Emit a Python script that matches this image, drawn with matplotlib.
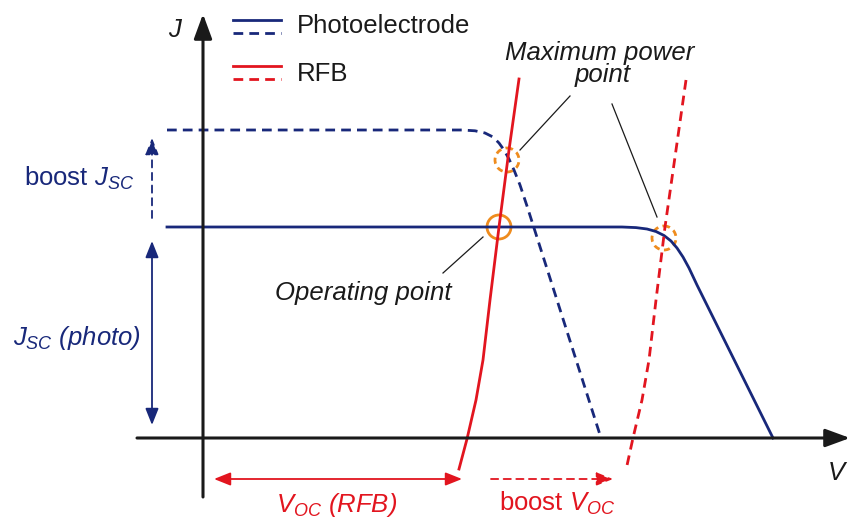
import matplotlib
matplotlib.use("Agg")
import matplotlib.pyplot as plt
from matplotlib.patches import Circle, FancyArrowPatch

plt.rcParams["font.family"] = ["Liberation Sans", "DejaVu Sans"]
plt.rcParams["mathtext.fontset"] = "custom"
plt.rcParams["mathtext.rm"] = "Liberation Sans"
plt.rcParams["mathtext.it"] = "Liberation Sans:italic"

# Curve data (pixel units, y pointing down)
photo_x = [167, 622, 636, 647, 656, 664, 671, 677, 683, 689, 697, 773]
photo_y = [227, 227, 227.6, 229, 231.5, 235.5, 241, 248, 257, 268, 285, 438]

photo_boost_x = [167, 462, 475, 485, 493, 499, 504, 509, 514, 520, 527, 601]
photo_boost_y = [130, 130, 130.8, 133, 137, 143, 150, 159, 170, 185, 206, 438]

rfb_x = [519, 509, 499, 490, 483, 476, 467, 459]
rfb_y = [79, 150, 227, 300, 360, 400, 439, 469]

rfb_boost_x = [686, 676, 665, 656, 649, 642, 633, 626]
rfb_boost_y = [80, 150, 227, 300, 360, 400, 438, 470]

# points marked with circles: operating point, two maximum power points
op_point = (499, 227)
mpp_points = [(507, 160), (664, 238)]

navy = "#18287a"
red = "#e2151f"
orange = "#ef8c1e"
ink = "#1a1a1a"
fs = 18.5

fig = plt.figure(figsize=(8.5, 5.19), dpi=100)
ax = fig.add_axes([0, 0, 1, 1])
ax.set_xlim(0, 850)
ax.set_ylim(519, 0)
ax.axis("off")

# axes with arrows
ax.annotate("", xy=(850, 438), xytext=(137, 438),
            arrowprops=dict(arrowstyle="-|>,head_length=1.5,head_width=0.55",
                            color=ink, lw=2.2, mutation_scale=10, shrinkA=0, shrinkB=0))
ax.annotate("", xy=(203, 14), xytext=(203, 497),
            arrowprops=dict(arrowstyle="-|>,head_length=1.5,head_width=0.55",
                            color=ink, lw=2.2, mutation_scale=10, shrinkA=0, shrinkB=0))
ax.text(175, 37, "J", fontsize=fs, style="italic", color=ink, ha="center", va="baseline")
ax.text(836, 480, "V", fontsize=fs, style="italic", color=ink, ha="center", va="baseline")

# curves
ax.plot(photo_x, photo_y, color=navy, lw=2, solid_joinstyle="round")
ax.plot(photo_boost_x, photo_boost_y, color=navy, lw=2, ls=(0, (3.5, 2.2)))
ax.plot(rfb_x, rfb_y, color=red, lw=2, solid_joinstyle="round")
ax.plot(rfb_boost_x, rfb_boost_y, color=red, lw=2, ls=(0, (3.5, 2.2)))

# circles
ax.add_patch(Circle(op_point, 12, fill=False, ec=orange, lw=2))
for p in mpp_points:
    ax.add_patch(Circle(p, 12, fill=False, ec=orange, lw=2, ls=(0, (2.2, 1.6))))

# legend
ax.plot([233, 281], [20, 20], color=navy, lw=2)
ax.plot([233, 281], [33, 33], color=navy, lw=2, ls=(0, (3.5, 2.2)))
ax.plot([233, 281], [66, 66], color=red, lw=2)
ax.plot([233, 281], [79, 79], color=red, lw=2, ls=(0, (3.5, 2.2)))
ax.text(297, 33, "Photoelectrode", fontsize=fs, color=ink, va="baseline")
ax.text(297, 81, "RFB", fontsize=fs, color=ink, va="baseline")

# annotations
ax.text(600, 60, "Maximum power", fontsize=fs, style="italic", color=ink, ha="center", va="baseline")
ax.text(603, 82, "point", fontsize=fs, style="italic", color=ink, ha="center", va="baseline")
ax.plot([570, 520], [96, 150], color=ink, lw=0.9)
ax.plot([612, 657], [104, 217], color=ink, lw=0.9)
ax.text(363, 300, "Operating point", fontsize=fs, style="italic", color=ink, ha="center", va="baseline")
ax.plot([443, 483], [273, 237], color=ink, lw=0.9)

# current arrows (left)
arrow_small = "-|>,head_length=1.0,head_width=0.4"
ax.annotate("", xy=(152, 138), xytext=(152, 218),
            arrowprops=dict(arrowstyle=arrow_small, color=navy, lw=1.3, ls=(0, (4, 3)),
                            mutation_scale=10, shrinkA=0, shrinkB=0))
ax.add_patch(FancyArrowPatch((152, 241), (152, 425), arrowstyle="<|-|>,head_length=1.0,head_width=0.4",
                             color=navy, lw=1.3, mutation_scale=10, shrinkA=0, shrinkB=0))
ax.text(24, 186, r"boost $J_{SC}$", fontsize=fs, color=navy, va="baseline")
ax.text(13, 345, r"$J_{SC}$ (photo)", fontsize=fs, style="italic", color=navy, va="baseline")

# voltage arrows (bottom)
ax.add_patch(FancyArrowPatch((214, 479), (462, 479), arrowstyle="<|-|>,head_length=1.0,head_width=0.4",
                             color=red, lw=1.3, mutation_scale=10, shrinkA=0, shrinkB=0))
ax.annotate("", xy=(613, 479), xytext=(491, 479),
            arrowprops=dict(arrowstyle=arrow_small, color=red, lw=1.3, ls=(0, (4, 3)),
                            mutation_scale=10, shrinkA=0, shrinkB=0))
ax.text(276, 512, r"$V_{OC}$ (RFB)", fontsize=fs, style="italic", color=red, va="baseline")
ax.text(499, 511, r"boost $V_{OC}$", fontsize=fs, color=red, va="baseline")

fig.savefig("out.png", dpi=100)
